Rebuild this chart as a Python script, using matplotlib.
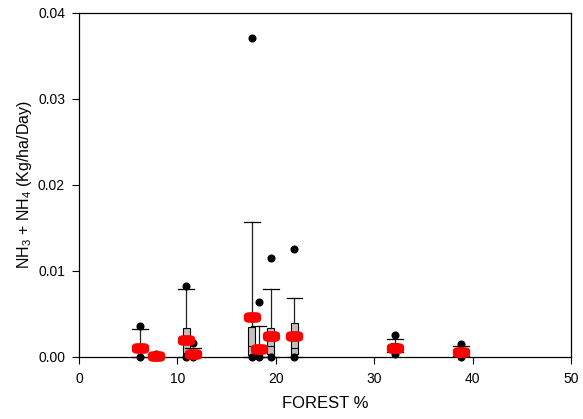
import numpy as np
import matplotlib.pyplot as plt
from matplotlib.path import Path

plt.rcParams['font.family'] = ['Liberation Sans', 'DejaVu Sans']
plt.rcParams['mathtext.fontset'] = 'custom'
plt.rcParams['mathtext.rm'] = 'Liberation Sans'
plt.rcParams['mathtext.it'] = 'Liberation Sans:italic'

# forest cover of each site and the spread of NH3 + NH4 loads there
forest = [6.2, 7.8, 10.9, 11.6, 17.55, 18.25, 19.5, 21.9, 32.1, 38.8]
q1 = [0.0, 0.0, 0.0, 0.0, 0.0002, 0.0, 0.0003, 0.00035, 0.0007, 0.0002]
median = [0.0001, 0.0001, 0.0005, 0.0002, 0.0013, 0.0003, 0.0013, 0.0011, 0.0010, 0.0005]
q3 = [0.0002, 0.0002, 0.0034, 0.0006, 0.00345, 0.0006, 0.0034, 0.0039, 0.0016, 0.0009]
whis_lo = [0.0, 0.0, 0.0, 0.0, 0.0, 0.0, 0.0, 0.0, 0.00055, 0.0001]
whis_hi = [0.00326, 0.0003, 0.0079, 0.00105, 0.0157, 0.0036, 0.0079, 0.0069, 0.0021, 0.00128]
p95 = [0.0036, 0.0004, 0.0082, 0.00166, 0.0371, 0.0064, 0.01147, 0.0126, 0.00256, 0.00147]
p5 = [0.0, 0.0, 0.0, 0.0, 0.0, 0.0, 0.0, 0.0, 0.0003, 0.0]
mean = [0.00105, 0.0001, 0.002, 0.00035, 0.0046, 0.00093, 0.00248, 0.00244, 0.00108, 0.0006]

fig = plt.figure(figsize=(5.83, 4.19), dpi=100)
ax = fig.add_axes([0.1355, 0.148, 0.8439, 0.821])

stats = []
for i in range(len(forest)):
    stats.append(dict(med=median[i], q1=q1[i], q3=q3[i],
                      whislo=whis_lo[i], whishi=whis_hi[i],
                      fliers=[p5[i], p95[i]]))

ax.bxp(stats, positions=forest, widths=0.7, patch_artist=True,
       manage_ticks=False,
       boxprops=dict(facecolor='#c0c0c0', edgecolor='black', linewidth=0.8),
       medianprops=dict(color='black', linewidth=0.8),
       whiskerprops=dict(color='#202020', linewidth=0.9),
       capprops=dict(color='black', linewidth=0.9),
       capwidths=1.6,
       flierprops=dict(marker='o', markerfacecolor='black',
                       markeredgecolor='black', markersize=4.8),
       )
for a in ax.lines:
    a.set_clip_on(False)

# flattened ellipse (superellipse) marker for the means
t = np.linspace(0, 2 * np.pi, 80)
c, s = np.cos(t), np.sin(t)
blob = np.column_stack([np.sign(c) * np.abs(c) ** 0.6,
                        0.62 * np.sign(s) * np.abs(s) ** 0.6])
blob_marker = Path(blob, closed=True)
ax.plot(forest, mean, linestyle='none', marker=blob_marker, markersize=12.5,
        color='red', markeredgewidth=0, zorder=5, clip_on=False)

ax.set_xlim(0, 50)
ax.set_ylim(0, 0.04)
ax.set_xticks([0, 10, 20, 30, 40, 50])
ax.set_yticks([0.0, 0.01, 0.02, 0.03, 0.04])
ax.set_yticklabels(['0.00', '0.01', '0.02', '0.03', '0.04'])
ax.tick_params(direction='out', length=5, width=0.8, labelsize=10,
               top=False, right=False)
ax.tick_params(axis='x', pad=6)
ax.tick_params(axis='y', pad=5)
for sp in ax.spines.values():
    sp.set_linewidth(0.9)

ax.set_xlabel('FOREST %', fontsize=12, labelpad=7)
ax.set_ylabel(r'NH$_3$ + NH$_4$ (Kg/ha/Day)', fontsize=11.5, labelpad=3)

fig.savefig('out.png', dpi=100)
